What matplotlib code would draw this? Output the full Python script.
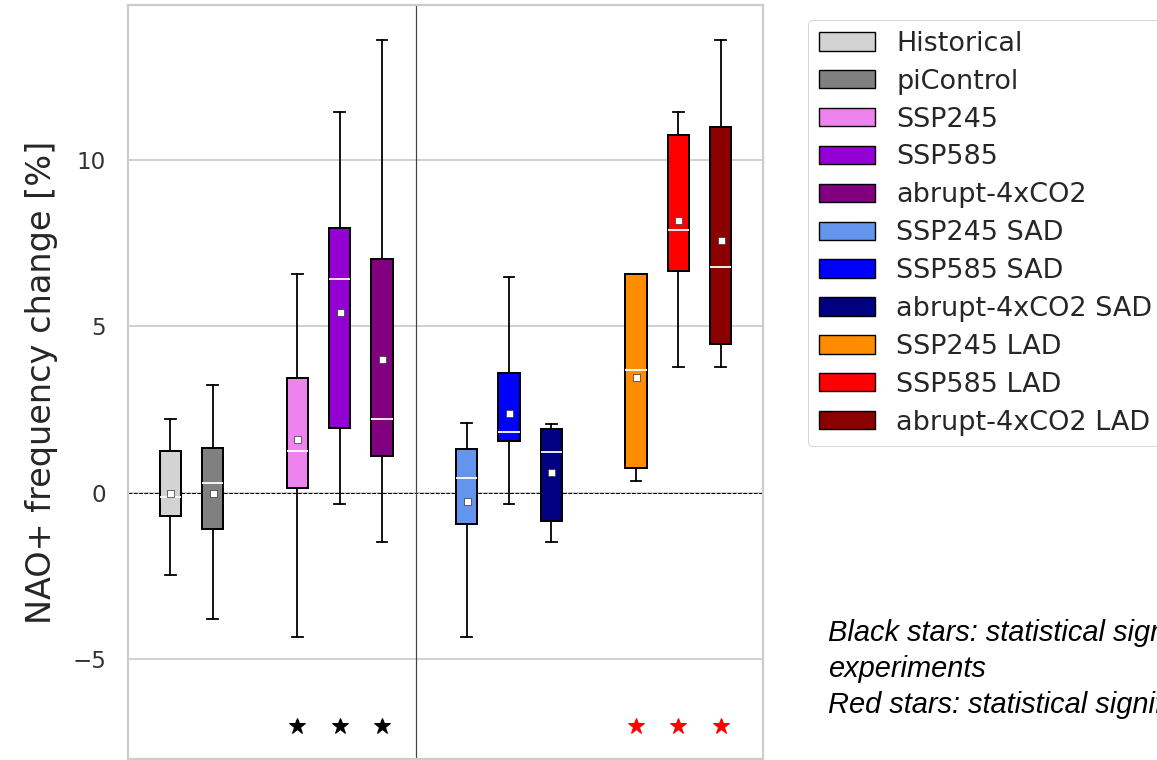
import matplotlib
matplotlib.use("Agg")
import matplotlib.pyplot as plt
from matplotlib.patches import Patch

# ---------------- data ----------------
labels = ["Historical", "piControl", "SSP245", "SSP585", "abrupt-4xCO2",
          "SSP245 SAD", "SSP585 SAD", "abrupt-4xCO2 SAD",
          "SSP245 LAD", "SSP585 LAD", "abrupt-4xCO2 LAD"]
colors = ["#d3d3d3", "#808080", "#ee82ee", "#9400d3", "#800080",
          "#6495ed", "#0000ff", "#000080",
          "#ff8c00", "#ff0000", "#8b0000"]
positions = [1, 2, 4, 5, 6, 8, 9, 10, 12, 13, 14]
whisker_low = [-2.46, -3.78, -4.35, -0.33, -1.47, -4.35, -0.33, -1.47, 0.36, 3.78, 3.78]
q1 = [-0.69, -1.08, 0.15, 1.95, 1.11, -0.93, 1.56, -0.84, 0.75, 6.66, 4.47]
medians = [-0.12, 0.30, 1.26, 6.42, 2.22, 0.45, 1.83, 1.23, 3.69, 7.89, 6.78]
means = [0.0, 0.0, 1.62, 5.43, 4.02, -0.24, 2.40, 0.63, 3.48, 8.19, 7.59]
q3 = [1.26, 1.35, 3.45, 7.95, 7.02, 1.32, 3.60, 1.92, 6.57, 10.74, 11.00]
whisker_high = [2.22, 3.24, 6.57, 11.43, 13.59, 2.10, 6.48, 2.07, 6.57, 11.43, 13.59]
black_star_pos = [4, 5, 6]
red_star_pos = [12, 13, 14]
star_y = -7.0
yticks = [-5, 0, 5, 10]
ylabel = "NAO+ frequency change [%]"
note = ("Black stars: statistical significance with respect to Historical and piControl\n"
        "experiments\n"
        "Red stars: statistical significance with respect to SAD experiments")

# ---------------- figure ----------------
DPI = 72
fig = plt.figure(figsize=(1157 / DPI, 760 / DPI), dpi=DPI)
W, H = 1157, 760
ax_left, ax_right, ax_top, ax_bot = 128, 763, 5, 759
ax = fig.add_axes([ax_left / W, 1 - ax_bot / H, (ax_right - ax_left) / W, (ax_bot - ax_top) / H])

stats = []
for i in range(len(labels)):
    stats.append(dict(label=labels[i], whislo=whisker_low[i], q1=q1[i], med=medians[i],
                      mean=means[i], q3=q3[i], whishi=whisker_high[i], fliers=[]))

bp = ax.bxp(stats, positions=positions, widths=0.5, patch_artist=True, showmeans=True,
            capwidths=0.25, manage_ticks=False,
            boxprops=dict(edgecolor="black", linewidth=2.0),
            whiskerprops=dict(color="black", linewidth=1.8),
            capprops=dict(color="black", linewidth=1.8),
            medianprops=dict(color="white", linewidth=1.8),
            meanprops=dict(marker="s", markerfacecolor="white", markeredgecolor="#333333",
                           markeredgewidth=0.7, markersize=7),
            zorder=3)
for patch, c in zip(bp["boxes"], colors):
    patch.set_facecolor(c)

ax.axhline(0, color="black", linestyle="--", linewidth=1.0, zorder=2)
ax.axvline(6.8, color="#444444", linewidth=1.2, zorder=2)

ax.plot(black_star_pos, [star_y] * len(black_star_pos), linestyle="none", marker="*",
        color="black", markersize=17, zorder=4)
ax.plot(red_star_pos, [star_y] * len(red_star_pos), linestyle="none", marker="*",
        color="red", markersize=17, zorder=4)

ax.set_xlim(0, 15)
ax.set_ylim(-8.0, 14.65)
ax.set_xticks([])
ax.set_yticks(yticks)
ax.yaxis.grid(True, color="#cccccc", linewidth=1.8, zorder=0)
ax.set_axisbelow(True)
for s in ax.spines.values():
    s.set_color("#cccccc")
    s.set_linewidth(2.2)
ax.tick_params(axis="y", length=0, pad=22, labelsize=23, labelcolor="#333333")
ax.set_ylabel(ylabel, fontsize=33.5, color="#262626", labelpad=14)

handles = [Patch(facecolor=c, edgecolor="black", linewidth=1.4, label=l)
           for c, l in zip(colors, labels)]
leg = fig.legend(handles=handles, loc="upper left", bbox_to_anchor=(808 / W, 1 - 20 / H),
                 borderaxespad=0, fontsize=27, labelspacing=0.44, handlelength=2.07,
                 handleheight=0.67, handletextpad=0.8, borderpad=0.4, frameon=True,
                 fancybox=True, edgecolor="#cccccc")
for t in leg.get_texts():
    t.set_color("#262626")

fig.text(828 / W, 1 - 713 / H, note, fontsize=29, style="italic",
         family=["Liberation Sans", "DejaVu Sans"], va="baseline", ha="left",
         linespacing=1.37, color="black")

fig.savefig("out.png", dpi=DPI)
